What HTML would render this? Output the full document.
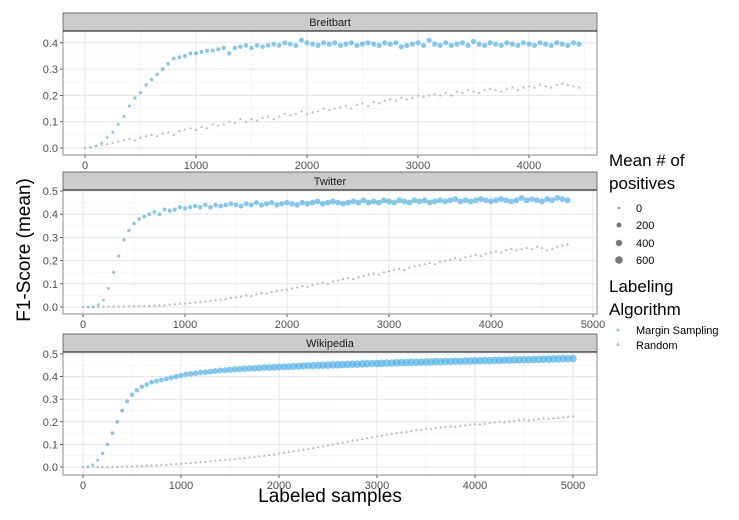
<!DOCTYPE html>
<html><head><meta charset="utf-8"><style>
body{margin:0;background:#fff;}
svg{font-family:"Liberation Sans",Arial,sans-serif;}
</style></head><body>
<svg id="c" width="739" height="515" viewBox="0 0 739 515">
<text x="330" y="502" font-size="19" text-anchor="middle" fill="#000">Labeled samples</text>
<text transform="translate(30,250) rotate(-90)" font-size="19" text-anchor="middle" fill="#000">F1-Score (mean)</text>
<g>
<text x="609" y="166" font-size="17">Mean # of</text>
<text x="609" y="189" font-size="17">positives</text>
<circle cx="619" cy="208" r="1" fill="#777"/>
<text x="636" y="212" font-size="11">0</text>
<circle cx="619" cy="225" r="2.5" fill="#777"/>
<text x="636" y="229" font-size="11">200</text>
<circle cx="619" cy="243" r="3.2" fill="#777"/>
<text x="636" y="247" font-size="11">400</text>
<circle cx="619" cy="260" r="3.8" fill="#777"/>
<text x="636" y="264" font-size="11">600</text>
<text x="609" y="292" font-size="17">Labeling</text>
<text x="609" y="315" font-size="17">Algorithm</text>
<circle cx="618" cy="330" r="1.5" fill="#56B4E9" opacity="0.7"/>
<text x="636" y="334" font-size="11">Margin Sampling</text>
<polygon points="618,342 620,346 616,346" fill="#aaa" opacity="0.7"/>
<text x="636" y="349" font-size="11">Random</text>
</g>
</svg>
<script>
const breitbartMargin=[0,0.002,0.008,0.02,0.04,0.06,0.09,0.12,0.16,0.19,0.21,0.24,0.26,0.28,0.30,0.32,0.34,0.345,0.35,0.36,0.36,0.365,0.37,0.37,0.375,0.38,0.36,0.38,0.385,0.39,0.38,0.39,0.385,0.39,0.395,0.39,0.40,0.395,0.39,0.41,0.40,0.395,0.39,0.40,0.395,0.40,0.39,0.395,0.40,0.39,0.395,0.40,0.395,0.39,0.40,0.395,0.40,0.385,0.39,0.395,0.40,0.39,0.41,0.395,0.39,0.40,0.39,0.395,0.40,0.39,0.405,0.395,0.39,0.40,0.395,0.39,0.40,0.395,0.39,0.40,0.395,0.39,0.40,0.395,0.39,0.40,0.395,0.39,0.40,0.395];
const breitbartRandom=[0,0.003,0.008,0.012,0.015,0.02,0.025,0.03,0.035,0.03,0.04,0.045,0.05,0.045,0.055,0.06,0.05,0.065,0.07,0.075,0.07,0.08,0.075,0.09,0.085,0.09,0.1,0.095,0.11,0.1,0.11,0.105,0.115,0.12,0.11,0.12,0.13,0.125,0.13,0.14,0.13,0.135,0.14,0.15,0.145,0.15,0.155,0.16,0.15,0.165,0.17,0.16,0.175,0.17,0.18,0.185,0.18,0.19,0.185,0.19,0.2,0.195,0.2,0.205,0.2,0.21,0.2,0.215,0.21,0.22,0.215,0.21,0.22,0.225,0.22,0.215,0.225,0.23,0.22,0.23,0.235,0.23,0.24,0.235,0.23,0.24,0.245,0.24,0.235,0.23];
const twitterMargin=[0,0,0.002,0.01,0.03,0.08,0.15,0.22,0.29,0.33,0.36,0.38,0.39,0.40,0.41,0.40,0.42,0.415,0.42,0.43,0.425,0.43,0.435,0.43,0.44,0.43,0.44,0.435,0.44,0.445,0.44,0.435,0.445,0.44,0.45,0.44,0.445,0.45,0.44,0.445,0.45,0.445,0.44,0.45,0.445,0.45,0.455,0.445,0.45,0.455,0.45,0.445,0.45,0.455,0.45,0.46,0.45,0.455,0.45,0.46,0.455,0.45,0.46,0.455,0.45,0.46,0.455,0.46,0.45,0.455,0.46,0.455,0.46,0.465,0.455,0.46,0.455,0.46,0.465,0.46,0.455,0.46,0.465,0.46,0.455,0.46,0.47,0.46,0.465,0.46,0.455,0.465,0.46,0.47,0.465,0.46];
const twitterRandom=[0,0,0,0.001,0.001,0.002,0.002,0.002,0.003,0.003,0.004,0.004,0.005,0.005,0.006,0.007,0.008,0.01,0.012,0.014,0.015,0.018,0.02,0.022,0.025,0.028,0.03,0.032,0.035,0.04,0.042,0.045,0.05,0.048,0.055,0.06,0.058,0.065,0.07,0.072,0.075,0.08,0.085,0.09,0.088,0.095,0.1,0.105,0.1,0.11,0.115,0.12,0.125,0.12,0.13,0.135,0.14,0.145,0.14,0.15,0.155,0.16,0.165,0.16,0.17,0.175,0.18,0.185,0.19,0.185,0.195,0.2,0.205,0.21,0.205,0.215,0.22,0.225,0.22,0.23,0.235,0.24,0.235,0.245,0.25,0.245,0.25,0.255,0.25,0.26,0.255,0.245,0.25,0.26,0.265,0.27];
const wikipediaMargin=[0,0.002,0.01,0.03,0.06,0.1,0.15,0.2,0.25,0.29,0.32,0.34,0.355,0.365,0.375,0.38,0.385,0.39,0.395,0.4,0.405,0.41,0.412,0.415,0.418,0.42,0.422,0.425,0.427,0.428,0.43,0.432,0.433,0.435,0.436,0.437,0.438,0.44,0.44,0.441,0.442,0.443,0.444,0.445,0.446,0.447,0.448,0.448,0.449,0.45,0.451,0.452,0.452,0.453,0.454,0.455,0.455,0.456,0.457,0.458,0.458,0.459,0.46,0.46,0.461,0.462,0.462,0.463,0.463,0.464,0.465,0.465,0.466,0.466,0.467,0.467,0.468,0.468,0.469,0.469,0.47,0.47,0.471,0.471,0.472,0.472,0.473,0.473,0.474,0.474,0.475,0.475,0.476,0.476,0.477,0.477,0.478,0.478,0.479,0.479,0.48];
const wikipediaRandom=[0,0,0,0,0,0,0,0,0.001,0.002,0.003,0.004,0.005,0.006,0.007,0.008,0.009,0.01,0.012,0.013,0.015,0.017,0.019,0.02,0.022,0.024,0.026,0.028,0.03,0.032,0.034,0.036,0.038,0.04,0.042,0.044,0.047,0.05,0.053,0.056,0.06,0.063,0.066,0.07,0.073,0.077,0.08,0.084,0.088,0.092,0.096,0.1,0.104,0.108,0.112,0.116,0.12,0.124,0.128,0.132,0.136,0.14,0.144,0.147,0.15,0.153,0.156,0.16,0.163,0.166,0.17,0.168,0.172,0.175,0.178,0.18,0.178,0.182,0.185,0.188,0.19,0.188,0.192,0.195,0.198,0.2,0.198,0.202,0.205,0.208,0.21,0.207,0.21,0.212,0.215,0.213,0.216,0.218,0.22,0.222,0.225];
const xTicks=[0,1000,2000,3000,4000,5000];
const yTicksShort=[0,0.1,0.2,0.3,0.4];
const yTicksLong=[0,0.1,0.2,0.3,0.4,0.5];
const sampleStep=50;

const NS='http://www.w3.org/2000/svg';
const svg=document.getElementById('c');
function mk(t,a,p){const e=document.createElementNS(NS,t);for(const k in a)e.setAttribute(k,a[k]);(p||svg).appendChild(e);return e;}
const panels=[
 {title:'Breitbart',key:'breitbart',y0:31,y1:155,xz:85,xk:0.111,yz:148,yk:263,yt:yTicksShort,ms:breitbartMargin,rd:breitbartRandom,rmax:2.6},
 {title:'Twitter',key:'twitter',y0:190,y1:314,xz:83,xk:0.102,yz:307,yk:232,yt:yTicksLong,ms:twitterMargin,rd:twitterRandom,rmax:2.9},
 {title:'Wikipedia',key:'wikipedia',y0:352,y1:475,xz:83,xk:0.098,yz:467,yk:226,yt:yTicksLong,ms:wikipediaMargin,rd:wikipediaRandom,rmax:3.8}
];
const X0=63,X1=597;
panels.forEach(p=>{
 const sx=v=>p.xz+v*p.xk, sy=v=>p.yz-v*p.yk;
 const g=mk('g',{});
 
 
 const strip=mk('rect',{x:X0,y:p.y0-18,width:X1-X0,height:18,fill:'#cccccc',stroke:'#555','stroke-width':0.8},g);
 
 
 const st=mk('text',{x:(X0+X1)/2,y:p.y0-5,'font-size':11,'text-anchor':'middle',fill:'#1a1a1a'},g);
 st.textContent=p.title;
 
 
 for(let i=0;i<p.yt.length-1;i++){const v=(p.yt[i]+p.yt[i+1])/2;mk('line',{x1:X0,x2:X1,y1:sy(v),y2:sy(v),stroke:'#f2f2f2','stroke-width':0.6},g);}
 for(let i=0;i<xTicks.length-1;i++){const v=(xTicks[i]+xTicks[i+1])/2;if(sx(v)<X1)mk('line',{x1:sx(v),x2:sx(v),y1:p.y0,y2:p.y1,stroke:'#f2f2f2','stroke-width':0.6},g);}
 p.yt.forEach(v=>{mk('line',{x1:X0,x2:X1,y1:sy(v),y2:sy(v),stroke:'#e6e6e6','stroke-width':1},g);
  const t=mk('text',{x:X0-5,y:sy(v)+4,'font-size':11,'text-anchor':'end',fill:'#4d4d4d'},g);t.textContent=v.toFixed(1);
  
  
  mk('line',{x1:X0-3,x2:X0,y1:sy(v),y2:sy(v),stroke:'#333','stroke-width':0.8},g);});
 xTicks.forEach(v=>{const x=sx(v);if(x>X1+1)return;
  mk('line',{x1:x,x2:x,y1:p.y0,y2:p.y1,stroke:'#e6e6e6','stroke-width':1},g);
  mk('line',{x1:x,x2:x,y1:p.y1,y2:p.y1+3,stroke:'#333','stroke-width':0.8},g);
  const t=mk('text',{x:x,y:p.y1+14,'font-size':11,'text-anchor':'middle',fill:'#4d4d4d'},g);t.textContent=v;
  
  });
 const fr=mk('rect',{x:X0,y:p.y0,width:X1-X0,height:p.y1-p.y0,fill:'none',stroke:'#888','stroke-width':1},g);
 
 
 mk('line',{x1:X0,x2:X1,y1:p.y0,y2:p.y0,stroke:'#333','stroke-width':1.2},g);
 const n=p.ms.length;
 p.rd.forEach((v,i)=>{const x=sx(i*sampleStep),y=sy(v);
  const tri=mk('polygon',{points:`${x},${y-1.6} ${x+1.5},${y+1} ${x-1.5},${y+1}`,fill:'#a6a6a6',opacity:0.75},g);
  
  });
 p.ms.forEach((v,i)=>{const x=sx(i*sampleStep),y=sy(v);
  const r=0.8+(p.rmax-0.8)*Math.sqrt(Math.min(1,i/(n*0.5)));
  const c=mk('circle',{cx:x,cy:y,r:r,fill:'#4fb0ea',opacity:0.7},g);
  
  });
});
</script>
</body></html>
